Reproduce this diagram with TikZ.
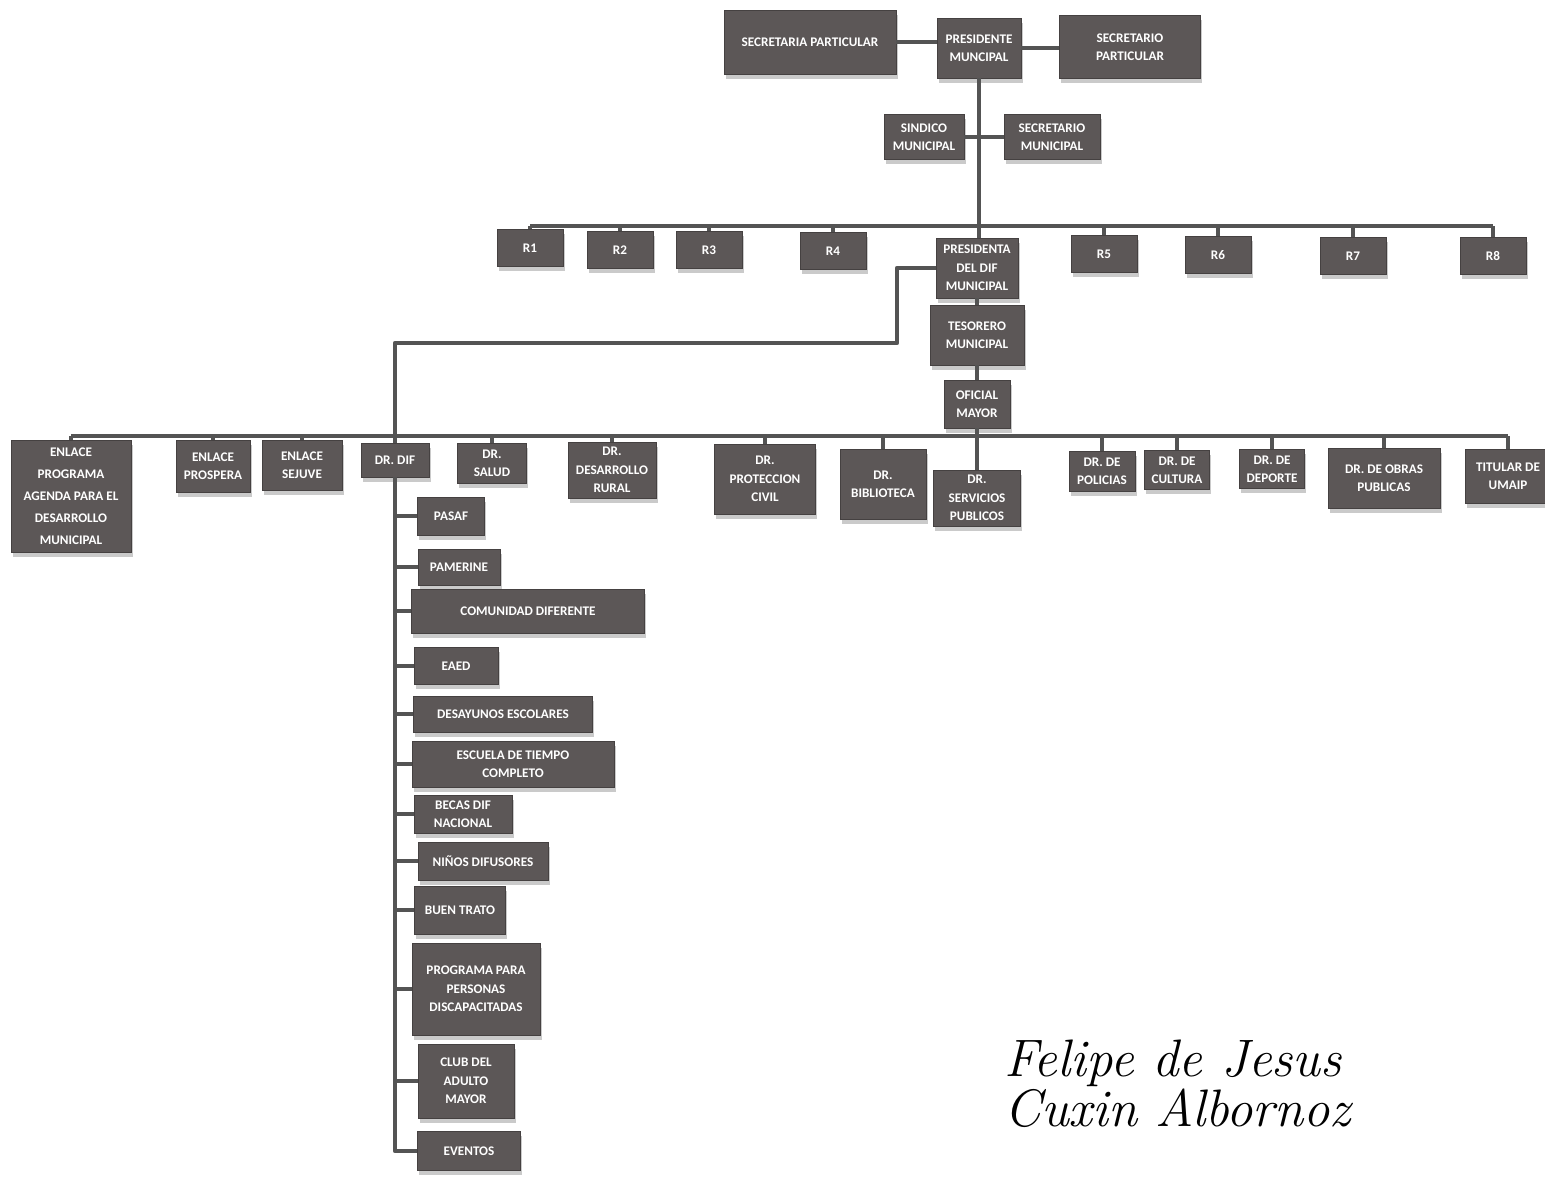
\documentclass[tikz,border=0pt]{standalone}
\usepackage{fontspec}
\newfontfamily\boxfont{Carlito}
\usetikzlibrary{calc,shadows}
\definecolor{BoxClr}{rgb}{0.36,0.34,0.34}
\definecolor{LineClr}{rgb}{0.33,0.33,0.33}
\definecolor{ShadowClr}{rgb}{0.74,0.74,0.74}

\tikzset{
  orgbox/.style={draw=BoxClr!75!black,line width=0.4pt,fill=BoxClr,text=white,
    align=center,inner sep=0pt,font=\boxfont\bfseries\fontsize{7.5}{10.5}\selectfont,
    drop shadow={shadow xshift=0.3mm,shadow yshift=-0.9mm,fill=ShadowClr,opacity=0.8}},
  sz/.style 2 args={minimum width=#1*0.2mm,minimum height=#2*0.2mm},
  link/.style={draw=LineClr,line width=2.6pt}
}

\begin{document}
\begin{tikzpicture}[x=0.2mm,y=-0.2mm]
\useasboundingbox (0,0) rectangle (1545,1176);

% top
\node[orgbox,sz={172}{64}] (secpart) at (810,42) {SECRETARIA PARTICULAR};
\node[orgbox,sz={84}{60}] (pres) at (979,48) {PRESIDENTE\\MUNCIPAL};
\node[orgbox,sz={141}{63}] (secpartic) at (1130,47) {SECRETARIO\\PARTICULAR};
\node[orgbox,sz={80}{45}] (sind) at (924,137) {SINDICO\\MUNICIPAL};
\node[orgbox,sz={96}{45}] (secmun) at (1052,137) {SECRETARIO\\MUNICIPAL};

% regidores
\coordinate (rbusL) at (530,226);
\coordinate (rbusR) at (1493,226);
\node[orgbox,sz={66}{37}] (R1) at (530,248) {R1};
\node[orgbox,sz={66}{37}] (R2) at (620,250) {R2};
\node[orgbox,sz={66}{37}] (R3) at (709,250) {R3};
\node[orgbox,sz={66}{37}] (R4) at (833,251) {R4};
\node[orgbox,sz={66}{37}] (R5) at (1104,254) {R5};
\node[orgbox,sz={66}{37}] (R6) at (1218,255) {R6};
\node[orgbox,sz={66}{37}] (R7) at (1353,256) {R7};
\node[orgbox,sz={66}{37}] (R8) at (1493,256) {R8};

\node[orgbox,sz={82}{60}] (presdif) at (977,268) {PRESIDENTA\\DEL DIF\\MUNICIPAL};
\node[orgbox,sz={94}{60}] (tesorero) at (977,335) {TESORERO\\MUNICIPAL};
\node[orgbox,sz={66}{48}] (oficial) at (977,404) {OFICIAL\\MAYOR};

% direcciones
\coordinate (lbusL) at (71,436);
\coordinate (lbusR) at (1508,436);
\node[orgbox,sz={120}{112},font=\boxfont\bfseries\fontsize{7.5}{12.5}\selectfont] (enlace) at (71,496)
  {ENLACE\\PROGRAMA\\AGENDA PARA EL\\DESARROLLO\\MUNICIPAL};
\node[orgbox,sz={74}{52}] (prospera) at (213,466) {ENLACE\\PROSPERA};
\node[orgbox,sz={80}{50}] (sejuve) at (302,465) {ENLACE\\SEJUVE};
\node[orgbox,sz={68}{34}] (drdif) at (395,460) {DR. DIF};
\node[orgbox,sz={69}{40}] (salud) at (492,463) {DR.\\SALUD};
\node[orgbox,sz={88}{56}] (rural) at (612,470) {DR.\\DESARROLLO\\RURAL};
\node[orgbox,sz={101}{70}] (proteccion) at (765,479) {DR.\\PROTECCION\\CIVIL};
\node[orgbox,sz={86}{70}] (biblioteca) at (883,484) {DR.\\BIBLIOTECA};
\node[orgbox,sz={87}{56}] (servicios) at (977,498) {DR.\\SERVICIOS\\PUBLICOS};
\node[orgbox,sz={66}{40}] (policias) at (1102,471) {DR. DE\\POLICIAS};
\node[orgbox,sz={65}{39}] (cultura) at (1177,470) {DR. DE\\CULTURA};
\node[orgbox,sz={65}{39}] (deporte) at (1272,469) {DR. DE\\DEPORTE};
\node[orgbox,sz={112}{60}] (obras) at (1384,478) {DR. DE OBRAS\\PUBLICAS};
\node[orgbox,sz={86}{54}] (umaip) at (1508,476) {TITULAR DE\\UMAIP};

% programas DIF
\node[orgbox,sz={67}{38}] (pasaf) at (451,516) {PASAF};
\node[orgbox,sz={82}{36}] (pamerine) at (459,567) {PAMERINE};
\node[orgbox,sz={233}{44}] (comunidad) at (528,611) {COMUNIDAD DIFERENTE};
\node[orgbox,sz={84}{37}] (eaed) at (456,666) {EAED};
\node[orgbox,sz={179}{36}] (desayunos) at (503,714) {DESAYUNOS ESCOLARES};
\node[orgbox,sz={202}{46}] (escuela) at (513,764) {ESCUELA DE TIEMPO\\COMPLETO};
\node[orgbox,sz={98}{38}] (becas) at (463,814) {BECAS DIF\\NACIONAL};
\node[orgbox,sz={130}{38}] (ninos) at (483,861) {NIÑOS DIFUSORES};
\node[orgbox,sz={91}{48}] (buentrato) at (460,910) {BUEN TRATO};
\node[orgbox,sz={128}{92}] (discap) at (476,989) {PROGRAMA PARA\\PERSONAS\\DISCAPACITADAS};
\node[orgbox,sz={96}{74}] (club) at (466,1081) {CLUB DEL\\ADULTO\\MAYOR};
\node[orgbox,sz={103}{39}] (eventos) at (469,1151) {EVENTOS};

% lineas
\draw[link] (secpart.east) -- (secpart.east -| pres.west);
\draw[link] (pres.east) -- (pres.east -| secpartic.west);
\draw[link] (pres.south) -- (pres.south |- presdif.north);
\draw[link] (sind.east) -- (secmun.west);
\draw[link] (rbusL) -- (rbusR);
\foreach \r in {R1,R2,R3,R4,R5,R6,R7,R8}
  \draw[link] (\r.north) -- (\r.north |- rbusL);
\draw[link] (presdif.south) -- (tesorero.north);
\draw[link] (tesorero.south) -- (oficial.north);
\draw[link] (oficial.south) -- (servicios.north);
\draw[link] (lbusL) -- (lbusR);
\foreach \d in {enlace,prospera,sejuve,salud,rural,proteccion,biblioteca,policias,cultura,deporte,obras,umaip}
  \draw[link] (\d.north) -- (\d.north |- lbusL);

\coordinate (difA) at (897,343);
\draw[link,line join=round] (presdif.west) -| (difA) -| (drdif.north);
\draw[link,line join=round] (drdif.south) |- (eventos.west);
\foreach \p in {pasaf,pamerine,comunidad,eaed,desayunos,escuela,becas,ninos,buentrato,discap,club}
  \draw[link] (\p.west) -- (\p.west -| drdif.south);

\node[anchor=north west,align=left,font=\itshape\fontsize{30}{22}\selectfont] (firma) at (998,1034)
  {Felipe de Jesus\\Cuxin Albornoz};

\end{tikzpicture}
\end{document}
